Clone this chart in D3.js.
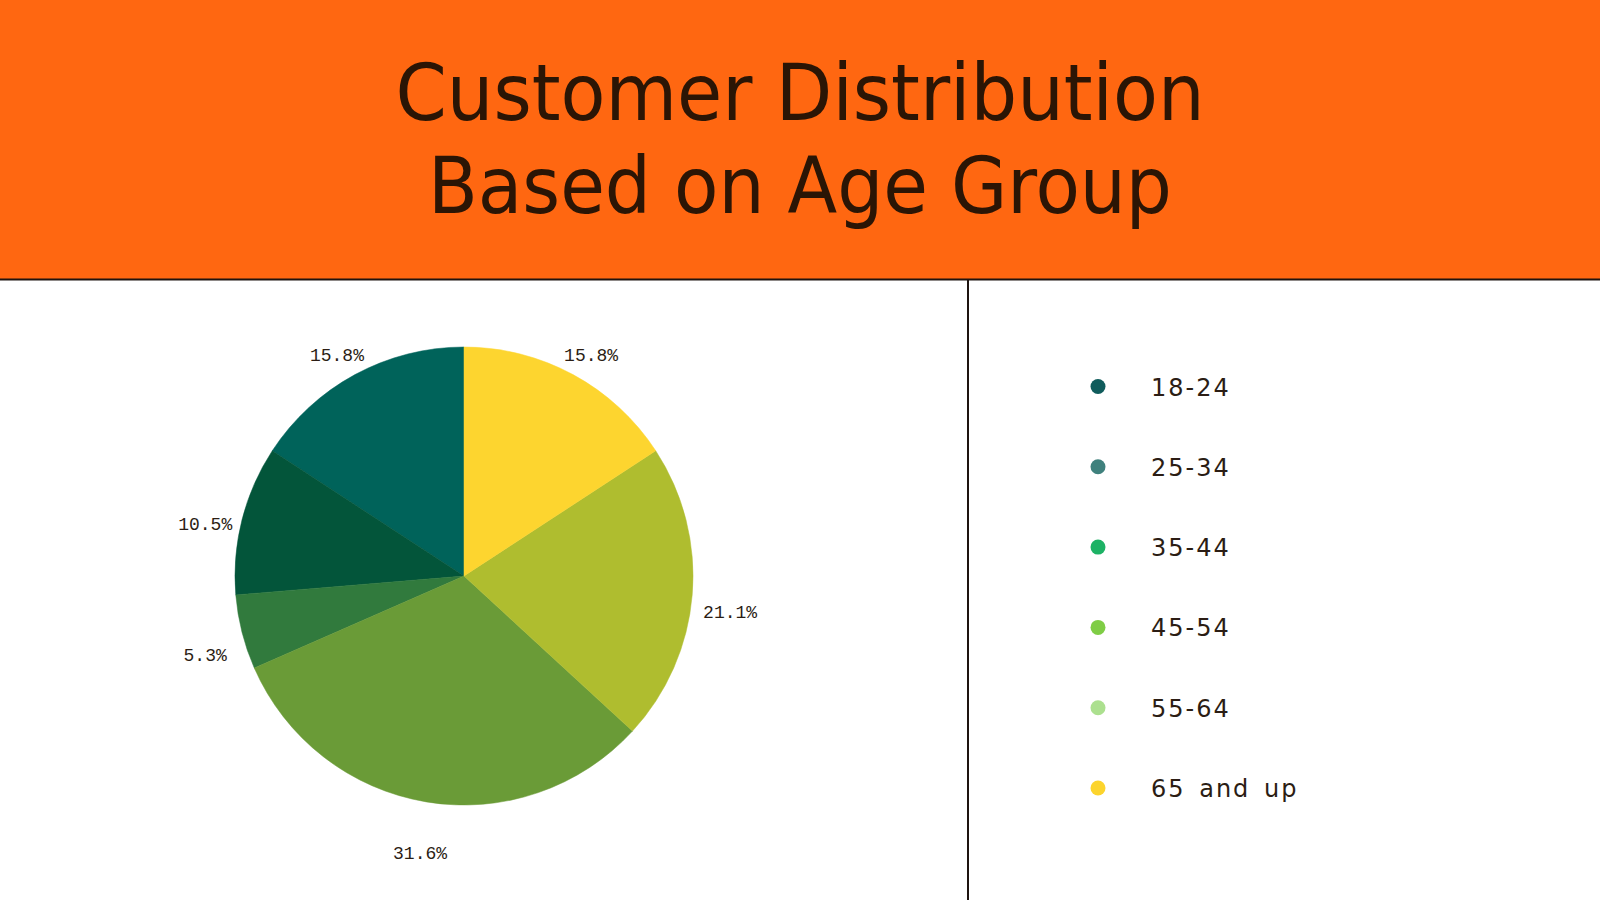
<!DOCTYPE html>
<html lang="en">
<head>
  <meta charset="UTF-8">
  <title>Customer Distribution Based on Age Group</title>
  <style>
    body { margin: 0; background: #fff; }
  </style>
</head>
<body>
  <svg id="svg" width="1600" height="900"></svg>

  <script src="https://d3js.org/d3.v7.min.js"></script>
  <script>
    // Data
    const ageGroups = ['18-24', '25-34', '35-44', '45-54', '55-64', '65 and up']
    const customers = [3, 2, 1, 6, 4, 3]
    const sliceColors = ['#00635a', '#03553a', '#317a3d', '#6a9b37', '#afbd2f', '#fdd52f']
    const legendColors = ['#105c5c', '#3f817d', '#1db265', '#7fcd45', '#ace08f', '#fcd42d']
    const titleLines = ['Customer Distribution', 'Based on Age Group']

    const svg = d3.select('#svg')
    const W = 1600, H = 900
    const headerH = 279

    // Orange header with the title
    svg.append('rect')
      .attr('width', W).attr('height', headerH)
      .attr('fill', '#ff6711')

    const titleWidths = [809, 744]
    svg.selectAll('text.title')
      .data(titleLines)
      .join('text')
      .attr('class', 'title')
      .attr('x', 800)
      .attr('y', (d, i) => 120 + i * 92.7)
      .attr('text-anchor', 'middle')
      .attr('textLength', (d, i) => titleWidths[i])
      .attr('lengthAdjust', 'spacingAndGlyphs')
      .attr('font-family', '"Liberation Sans Narrow", "DejaVu Sans Condensed", "Liberation Sans", sans-serif')
      .attr('font-size', 78)
      .attr('fill', '#2b1505')
      .text(d => d)

    // Divider lines
    svg.append('line')
      .attr('x1', 0).attr('x2', W)
      .attr('y1', headerH + 0.5).attr('y2', headerH + 0.5)
      .attr('stroke', '#1e1410').attr('stroke-width', 2)
    svg.append('line')
      .attr('x1', 968).attr('x2', 968)
      .attr('y1', headerH).attr('y2', H)
      .attr('stroke', '#1e1410').attr('stroke-width', 2)

    // Pie, drawn counter-clockwise from 12 o'clock
    const cx = 464, cy = 576, r = 229
    const total = d3.sum(customers)
    const pct = d3.format('.1%')

    const pie = d3.pie()
      .sort(null)
      .startAngle(0)
      .endAngle(-2 * Math.PI)
    const arcs = pie(customers)

    const arc = d3.arc().innerRadius(0).outerRadius(r)
    const labelArc = d3.arc().innerRadius(267).outerRadius(267)

    const g = svg.append('g').attr('transform', `translate(${cx}, ${cy})`)

    g.selectAll('path')
      .data(arcs)
      .join('path')
      .attr('d', arc)
      .attr('fill', (d, i) => sliceColors[i])
      .attr('stroke', (d, i) => sliceColors[i])
      .attr('stroke-width', 0.5)

    g.selectAll('text')
      .data(arcs)
      .join('text')
      .attr('transform', d => {
        const [x, y] = labelArc.centroid(d)
        return `translate(${x}, ${y + 19.5})`
      })
      .attr('text-anchor', 'middle')
      .attr('font-family', '"Liberation Mono", "DejaVu Sans Mono", monospace')
      .attr('font-size', 18)
      .attr('fill', '#2b1d14')
      .text(d => pct(d.value / total))

    // Legend
    const legend = svg.append('g')
      .selectAll('g')
      .data(ageGroups)
      .join('g')
      .attr('transform', (d, i) => `translate(1098, ${386.5 + i * 80.3})`)

    legend.append('circle')
      .attr('r', 7.5)
      .attr('fill', (d, i) => legendColors[i])

    legend.append('text')
      .attr('x', 53)
      .attr('y', 9)
      .attr('font-family', '"DejaVu Sans", sans-serif')
      .attr('font-size', 24)
      .attr('letter-spacing', 2)
      .attr('word-spacing', 4)
      .attr('fill', '#2b1d14')
      .text(d => d)
  </script>
</body>
</html>
